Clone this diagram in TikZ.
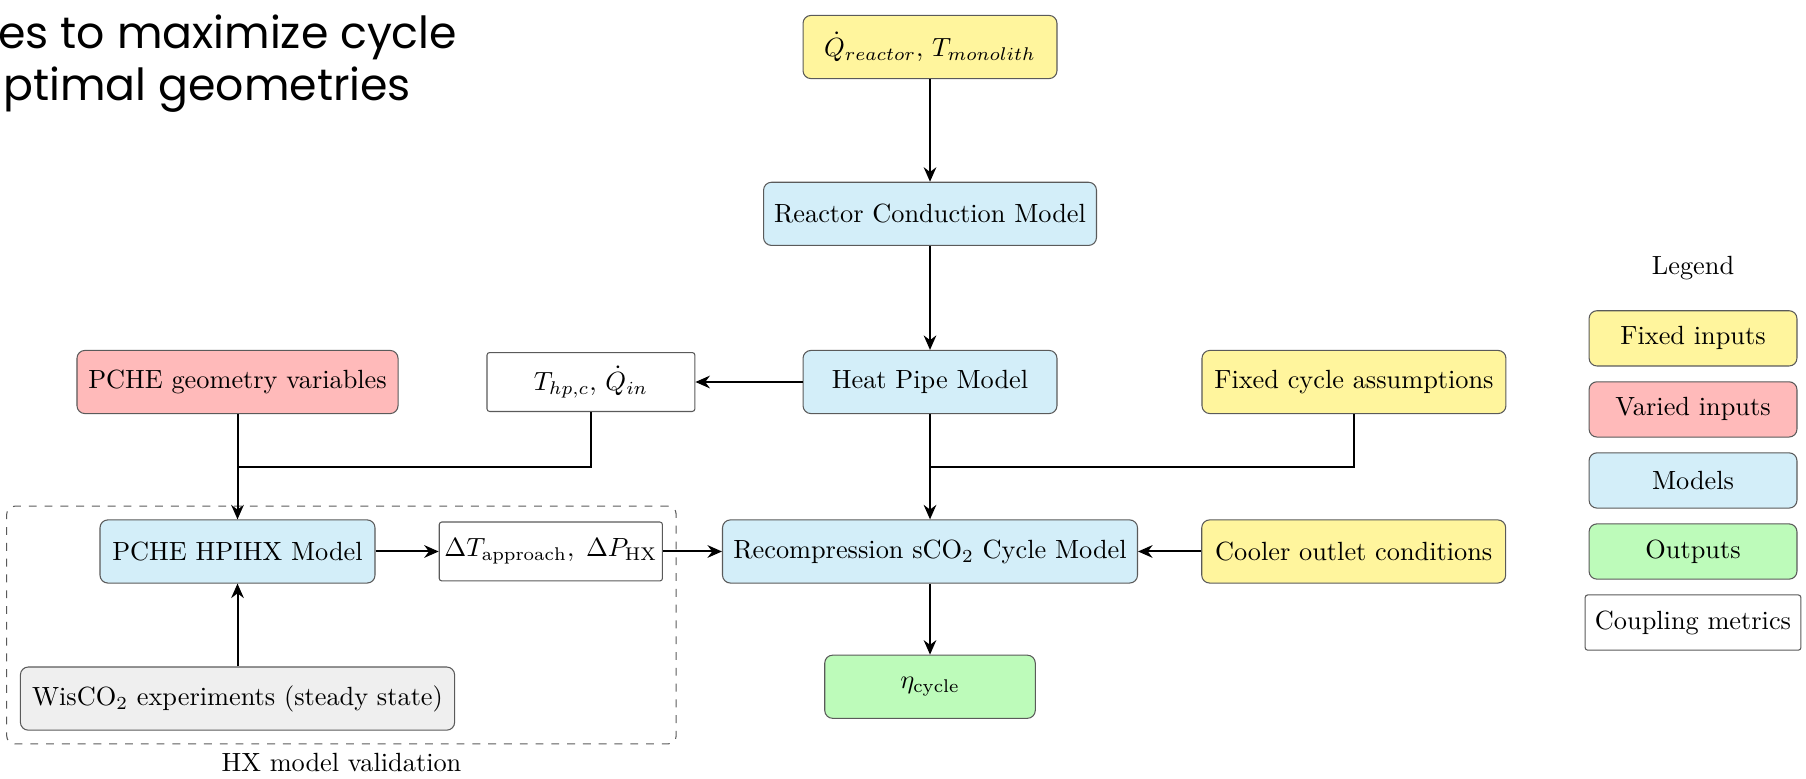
\documentclass[tikz,border=0pt]{standalone}
\usepackage{fontspec}
\newfontfamily\slidefont{Poppins}
\usepackage{tikz}
\usetikzlibrary{arrows.meta,positioning,fit,calc}
\definecolor{FixedFill}{HTML}{FFF59D}
\definecolor{VariedFill}{HTML}{FFBABA}
\definecolor{ModelFill}{HTML}{D3EEF9}
\definecolor{OutFill}{HTML}{BDFBBA}
\definecolor{ExpFill}{HTML}{EFEFEF}
\definecolor{Edge}{HTML}{5A5A5A}

\begin{document}
\begin{tikzpicture}[
  x=0.38pt,y=-0.38pt,
  node distance=40pt and 24pt,
  every node/.style={font=\normalsize},
  fixedbox/.style={draw=Edge,rounded corners=3pt,fill=FixedFill,align=center,minimum height=24pt,inner xsep=4pt},
  variedbox/.style={draw=Edge,rounded corners=3pt,fill=VariedFill,align=center,minimum height=24pt,inner xsep=4pt},
  modelbox/.style={draw=Edge,rounded corners=3pt,fill=ModelFill,align=center,minimum height=24pt,inner xsep=4pt},
  outbox/.style={draw=Edge,rounded corners=3pt,fill=OutFill,align=center,minimum height=24pt,inner xsep=4pt},
  expbox/.style={draw=Edge,rounded corners=3pt,fill=ExpFill,align=center,minimum height=24pt,inner xsep=4pt},
  metricbox/.style={draw=Edge,rounded corners=1pt,fill=white,align=center,minimum height=22.4pt,inner xsep=2pt},
  slidetext/.style={anchor=base west,inner sep=0,font=\slidefont\fontsize{16.8}{20}\selectfont},
  arr/.style={-{Stealth[length=5.5pt,width=4.8pt]},line width=0.75pt},
  link/.style={line width=0.75pt}
]
\useasboundingbox (0,0) rectangle (1806,778);
\node[slidetext] (slide1) at (-2,48) {es to maximize cycle};
\node[slidetext] (slide2) at (3,100) {ptimal geometries};
% main column
\node[fixedbox,minimum width=96.5pt] (qdot) at (930,47) {$\dot{Q}_{reactor},\, T_{monolith}$};
\node[modelbox,minimum width=126pt,below=39pt of qdot] (reactor) {Reactor Conduction Model};
\node[modelbox,minimum width=96.5pt,below=39.5pt of reactor] (heatpipe) {Heat Pipe Model};
\node[fixedbox,minimum width=115.5pt,right=54.7pt of heatpipe] (fixedcyc) {Fixed cycle assumptions};
\node[metricbox,minimum width=79pt,left=40.7pt of heatpipe] (thp) {$T_{hp,c},\, \dot{Q}_{in}$};
\node[variedbox,minimum width=122pt,left=33.4pt of thp] (pchegeo) {PCHE geometry variables};
\node[modelbox,minimum width=157.7pt,below=of heatpipe] (recomp) {Recompression sCO$_2$ Cycle Model};
\node[fixedbox,minimum width=115.5pt,right=of recomp] (cooler) {Cooler outlet conditions};
\node[outbox,minimum width=80pt,below=27pt of recomp] (eta) {$\eta_{\mathrm{cycle}}$};
% HX validation group
\node[modelbox,minimum width=104.5pt,below=of pchegeo] (hpihx) {PCHE HPIHX Model};
\node[metricbox,minimum width=84pt,right=of hpihx] (dtap) {$\Delta T_{\mathrm{approach}},\; \Delta P_{\mathrm{HX}}$};
\node[expbox,minimum width=165pt,below=31.5pt of hpihx] (wisco) {WisCO$_2$ experiments (steady state)};
\node[draw=Edge,dashed,rounded corners=3pt,inner sep=5pt,fit=(hpihx)(dtap)(wisco),label={below:HX model validation}] (valid) {};
% legend
\node (legtitle) at (1693,268) {Legend};
\node[fixedbox,minimum width=79pt,minimum height=21pt,below=8pt of legtitle] (lfixed) {Fixed inputs};
\node[variedbox,minimum width=79pt,minimum height=21pt,below=5.6pt of lfixed] (lvaried) {Varied inputs};
\node[modelbox,minimum width=79pt,minimum height=21pt,below=5.6pt of lvaried] (lmodel) {Models};
\node[outbox,minimum width=79pt,minimum height=21pt,below=5.6pt of lmodel] (lout) {Outputs};
\node[metricbox,minimum width=82pt,minimum height=21pt,below=5.6pt of lout] (lmetric) {Coupling metrics};
% connectors
\coordinate (jr) at ($(heatpipe.south)!0.5!(recomp.north)$);
\coordinate (jl) at ($(pchegeo.south)!0.5!(hpihx.north)$);
\draw[arr] (qdot) -- (reactor);
\draw[arr] (reactor) -- (heatpipe);
\draw[arr] (heatpipe) -- (thp);
\draw[arr] (heatpipe) -- (recomp);
\draw[link] (fixedcyc.south) |- (jr);
\draw[arr] (cooler) -- (recomp);
\draw[arr] (recomp) -- (eta);
\draw[arr] (pchegeo) -- (hpihx);
\draw[link] (thp.south) |- (jl);
\draw[arr] (hpihx) -- (dtap);
\draw[arr] (dtap) -- (recomp);
\draw[arr] (wisco) -- (hpihx);
\end{tikzpicture}
\end{document}
